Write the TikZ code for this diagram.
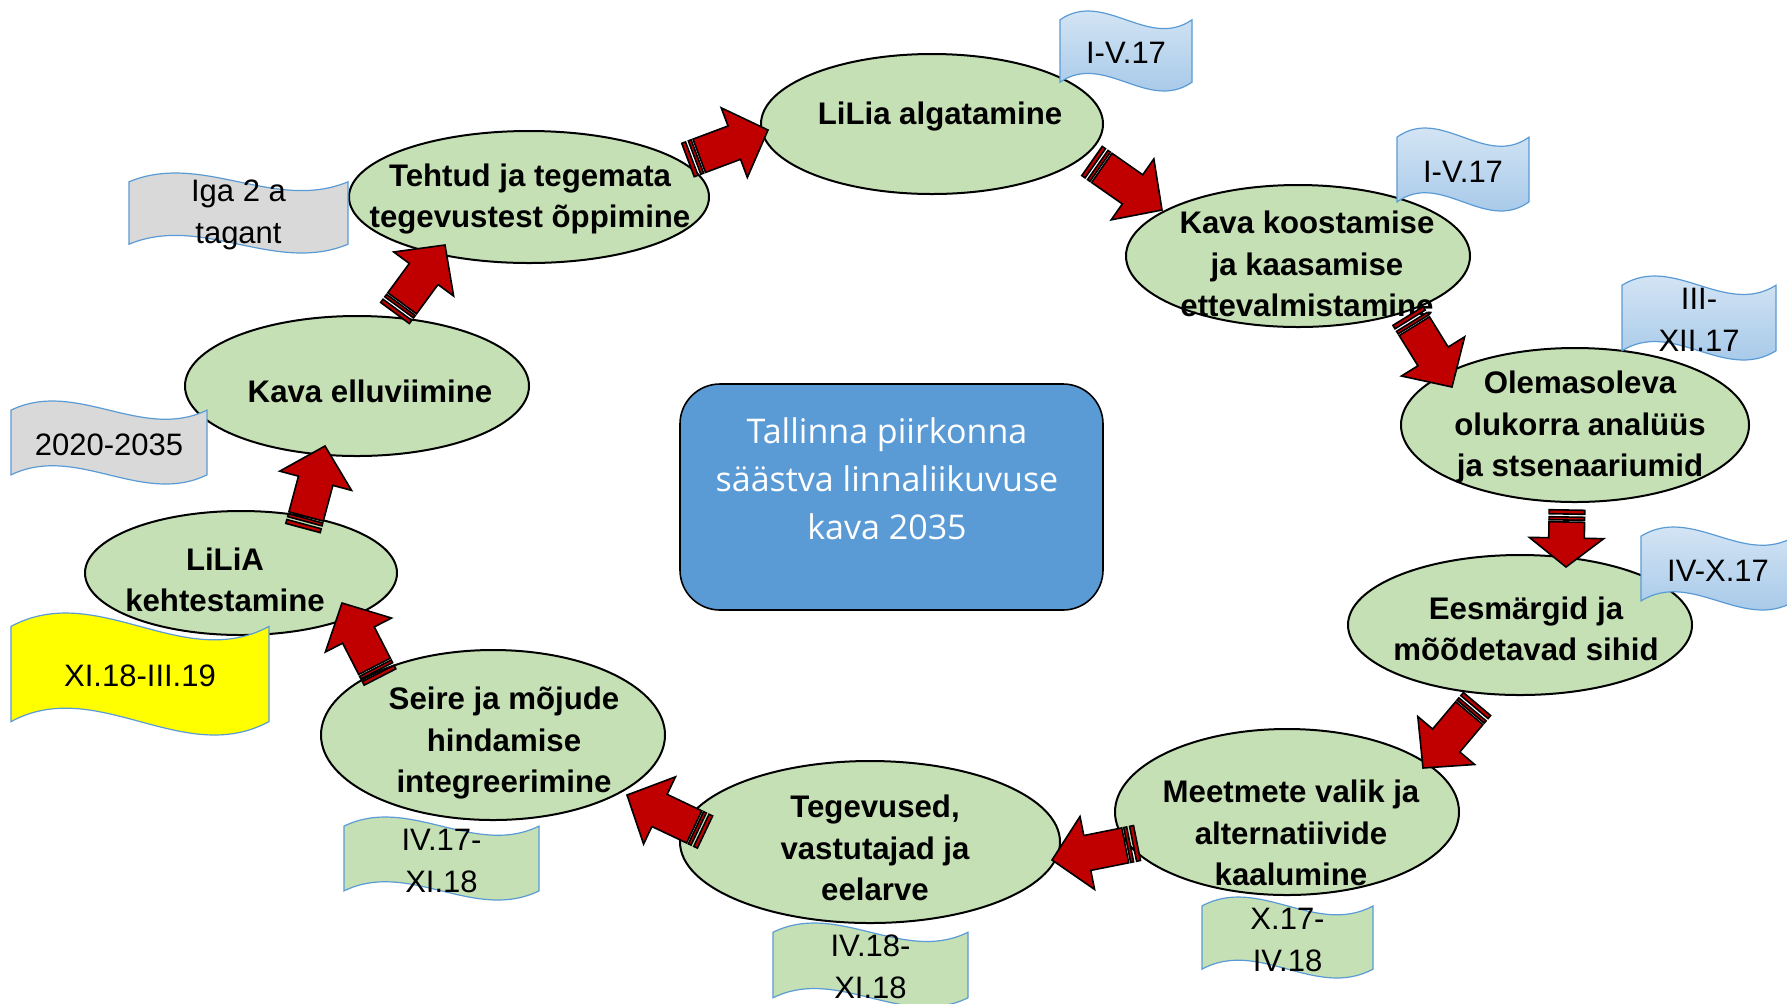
\documentclass[tikz,border=0pt]{standalone}
\usepackage{fontspec}
\setmainfont{Liberation Sans}
\newfontfamily\boxfont{Open Sans}
\usetikzlibrary{shapes.geometric,calc}
\definecolor{ellfill}{HTML}{C5E0B4}
\definecolor{arrred}{HTML}{C00000}
\definecolor{boxblue}{HTML}{5B9BD5}
\definecolor{flagline}{HTML}{5B9BD5}
\definecolor{flagtop}{HTML}{DEEBF7}
\definecolor{flagbot}{HTML}{9DC3E6}
\definecolor{flaggreen}{HTML}{C5E0B4}
\definecolor{flaggray}{HTML}{D9D9D9}
\definecolor{flagyellow}{HTML}{FFFF00}
% block arrow with tail stripes: [head length]{tail}{tip}
\newcommand\blkarrow[3][18pt]{%
  \draw[arrbody] ($(#2)!6pt!(#3)!8.9pt!90:(#3)$)
    -- ($(#3)!#1!(#2)!8.9pt!-90:(#2)$)
    -- ($(#3)!#1!(#2)!18.6pt!-90:(#2)$)
    -- (#3)
    -- ($(#3)!#1!(#2)!18.6pt!90:(#2)$)
    -- ($(#3)!#1!(#2)!8.9pt!90:(#2)$)
    -- ($(#2)!6pt!(#3)!8.9pt!-90:(#3)$) -- cycle;
  \draw[arrbody] ($(#2)!8.9pt!90:(#3)$) -- ($(#2)!2pt!(#3)!8.9pt!90:(#3)$)
    -- ($(#2)!2pt!(#3)!8.9pt!-90:(#3)$) -- ($(#2)!8.9pt!-90:(#3)$) -- cycle;
  \draw[arrbody] ($(#2)!3.5pt!(#3)!8.9pt!90:(#3)$) -- ($(#2)!5pt!(#3)!8.9pt!90:(#3)$)
    -- ($(#2)!5pt!(#3)!8.9pt!-90:(#3)$) -- ($(#2)!3.5pt!(#3)!8.9pt!-90:(#3)$) -- cycle;
}
% wave flag: {x0}{y0}{x1}{y1}{style}{text}{name}
\newcommand\wflag[7]{%
  \pgfmathsetmacro\fa{0.11*(#4-#2)}%
  \pgfmathsetmacro\fk{\fa/0.289}%
  \pgfmathsetmacro\fw{(#3-#1)/3}%
  \path[#5] (#1,#2+\fa) .. controls (#1+\fw,#2+\fa-\fk) and (#3-\fw,#2+\fa+\fk) .. (#3,#2+\fa)
    -- (#3,#4-\fa) .. controls (#3-\fw,#4-\fa+\fk) and (#1+\fw,#4-\fa-\fk) .. (#1,#4-\fa) -- cycle;
  \node[flagtext] (#7) at ({(#1+#3)/2},{(#2+#4)/2}) {#6};
}
\begin{document}
\begin{tikzpicture}[x=0.5pt,y=-0.5pt,
  ell/.style={ellipse,draw=black,line width=1pt,fill=ellfill,inner sep=0pt},
  etext/.style={font=\bfseries\fontsize{15.6}{20.8}\selectfont,align=center,inner sep=0pt,yshift=-1pt},
  arrbody/.style={draw=black,line width=0.8pt,fill=arrred,line join=miter},
  flagtext/.style={font=\fontsize{15.5}{21}\selectfont,align=center,inner sep=0pt,yshift=-1pt},
  blueflag/.style={draw=flagline,line width=0.6pt,top color=flagtop,bottom color=flagbot},
  greenflag/.style={draw=flagline,line width=0.6pt,fill=flaggreen},
  grayflag/.style={draw=flagline,line width=0.6pt,fill=flaggray},
  yellowflag/.style={draw=flagline,line width=0.6pt,fill=flagyellow},
  bigbox/.style={draw=black,line width=0.8pt,fill=boxblue,rounded corners=20pt}
]
\useasboundingbox (0,0) rectangle (1787,1003);
\fill[white] (0,0) rectangle (1787,1003);

% ellipses
\node[ell,minimum width=171pt,minimum height=70pt] (e1) at (932,124) {};
\node[ell,minimum width=172pt,minimum height=71pt] (e2) at (1298,256) {};
\node[ell,minimum width=174pt,minimum height=77pt] (e3) at (1575,425) {};
\node[ell,minimum width=172pt,minimum height=70pt] (e4) at (1520,625) {};
\node[ell,minimum width=172pt,minimum height=83pt] (e5) at (1287,812) {};
\node[ell,minimum width=190pt,minimum height=81pt] (e6) at (870,842) {};
\node[ell,minimum width=172pt,minimum height=85pt] (e7) at (493,735) {};
\node[ell,minimum width=156pt,minimum height=62pt] (e8) at (241,573) {};
\node[ell,minimum width=172pt,minimum height=70pt] (e9) at (357,386) {};
\node[ell,minimum width=180pt,minimum height=66pt] (e10) at (529,197) {};

% ellipse texts
\node[etext] (t1) at (940,114) {LiLia algatamine};
\node[etext] (t2) at (1307,262) {Kava koostamise\\ja kaasamise\\ettevalmistamine};
\node[etext] (t3) at (1580,425) {Olemasoleva\\olukorra analüüs\\ja stsenaariumid};
\node[etext] (t4) at (1526,627) {Eesmärgid ja\\mõõdetavad sihid};
\node[etext] (t5) at (1291,831) {Meetmete valik ja\\alternatiivide\\kaalumine};
\node[etext] (t6) at (875,846) {Tegevused,\\vastutajad ja\\eelarve};
\node[etext] (t7) at (504,741) {Seire ja mõjude\\hindamise\\integreerimine};
\node[etext] (t8) at (225,578) {LiLiA\\kehtestamine};
\node[etext] (t9) at (370,389) {Kava elluviimine};
\node[etext] (t10) at (530,197) {Tehtud ja tegemata\\tegevustest õppimine};

% central box
\node[bigbox,minimum width=211.5pt,minimum height=113pt] (box) at (891.5,497) {};
\node[font=\boxfont\fontsize{17}{24}\selectfont,text=white,align=center,inner sep=0pt] (boxtext) at (887,479)
  {Tallinna piirkonna\\säästva linnaliikuvuse\\kava 2035};

% arrow end points
\coordinate (a1t) at (688,160);  \coordinate (a1h) at (768,130);
\coordinate (a2t) at (1092,161); \coordinate (a2h) at (1162,210);
\coordinate (a3t) at (1408,316); \coordinate (a3h) at (1452,387);
\coordinate (a4t) at (1567,510); \coordinate (a4h) at (1566,567);
\coordinate (a5t) at (1477,704); \coordinate (a5h) at (1423,768);
\coordinate (a6t) at (1137,843); \coordinate (a6h) at (1052,860);
\coordinate (a7t) at (705,832);  \coordinate (a7h) at (627,795);
\coordinate (a8t) at (380,677);  \coordinate (a8h) at (342,603);
\coordinate (a9t) at (303,528);  \coordinate (a9h) at (325,446);
\coordinate (a10t) at (395,313); \coordinate (a10h) at (445,245);

\blkarrow{a1t}{a1h}
\blkarrow{a2t}{a2h}
\blkarrow{a3t}{a3h}
\blkarrow[14.5pt]{a4t}{a4h}
\blkarrow{a5t}{a5h}
\blkarrow{a6t}{a6h}
\blkarrow{a7t}{a7h}
\blkarrow{a8t}{a8h}
\blkarrow{a9t}{a9h}
\blkarrow{a10t}{a10h}

% flags
\wflag{1060}{11}{1192}{91}{blueflag}{I-V.17}{f1}
\wflag{1397}{128}{1529}{211}{blueflag}{I-V.17}{f2}
\wflag{1622}{276}{1776}{360}{blueflag}{III-\\XII.17}{f3}
\wflag{1641}{527}{1795}{610}{blueflag}{IV-X.17}{f4}
\wflag{1202}{897}{1373}{978}{greenflag}{X.17-\\IV.18}{f5}
\wflag{773}{923}{968}{1007}{greenflag}{IV.18-\\XI.18}{f6}
\wflag{344}{817}{539}{900}{greenflag}{IV.17-\\XI.18}{f7}
\wflag{11}{613}{269}{735}{yellowflag}{XI.18-III.19}{f8}
\wflag{11}{401}{207}{484}{grayflag}{2020-2035}{f9}
\wflag{129}{173}{348}{253}{grayflag}{Iga 2 a\\tagant}{f10}
\end{tikzpicture}
\end{document}
